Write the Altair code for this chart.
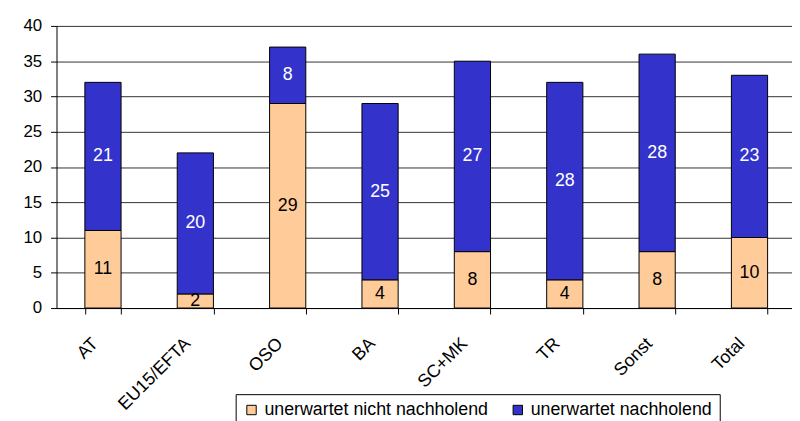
import altair as alt
import pandas as pd

categories = ["AT", "EU15/EFTA", "OSO", "BA", "SC+MK", "TR", "Sonst", "Total"]
nicht_nachholend = [11, 2, 29, 4, 8, 4, 8, 10]
nachholend = [21, 20, 8, 25, 27, 28, 28, 23]
series = ["unerwartet nicht nachholend", "unerwartet nachholend"]
colors = ["#FFCC99", "#3333CC"]
y_ticks = [0, 5, 10, 15, 20, 25, 30, 35, 40]

rows = []
for i, c in enumerate(categories):
    rows.append({"cat": c, "series": series[0], "order": 0, "value": nicht_nachholend[i]})
    rows.append({"cat": c, "series": series[1], "order": 1, "value": nachholend[i]})
df = pd.DataFrame(rows)

FONT = "Liberation Sans"

base = alt.Chart(df).transform_stack(
    stack="value", as_=["v0", "v1"], groupby=["cat"], sort=[alt.SortField("order")]
).transform_calculate(mid="(datum.v0 + datum.v1) / 2")

xscale = alt.Scale(paddingInner=0.608, paddingOuter=0.307, range=[0, 747])
yscale = alt.Scale(domain=[0, 40], nice=False)

xaxis = alt.Axis(
    title=None, labelAngle=-45, labelAlign="right", labelBaseline="middle",
    labelOffset=-8, labelPadding=27, tickSize=6, tickBand="extent",
    domainColor="black", tickColor="black", labelColor="black",
    labelFontSize=18, labelFont=FONT, grid=False,
)
yaxis = alt.Axis(
    title=None, values=y_ticks, tickSize=6, labelPadding=9,
    grid=True, gridColor="#333333", gridWidth=1,
    domainColor="black", tickColor="black", labelColor="black",
    labelFontSize=17, labelFont=FONT,
)

bars = base.mark_bar(stroke="black", strokeWidth=1).encode(
    x=alt.X("cat:N", sort=categories, scale=xscale, axis=xaxis),
    y=alt.Y("v0:Q", scale=yscale, axis=yaxis),
    y2="v1:Q",
    color=alt.Color(
        "series:N",
        scale=alt.Scale(domain=series, range=colors),
        legend=alt.Legend(
            title=None, orient="none", legendX=181, legendY=372,
            direction="horizontal", symbolType="square", symbolSize=90,
            symbolStrokeColor="black", symbolStrokeWidth=1,
            labelFontSize=18, labelFont=FONT, labelColor="black",
            labelOffset=4, columnPadding=20, labelLimit=0,
            strokeColor="black", fillColor="white", padding=7,
        ),
    ),
)

labels = base.mark_text(fontSize=18, font=FONT).encode(
    x=alt.X("cat:N", sort=categories, scale=xscale, axis=xaxis),
    y=alt.Y("mid:Q", scale=yscale, axis=yaxis),
    text=alt.Text("value:Q"),
    color=alt.condition("datum.order == 0", alt.value("black"), alt.value("white")),
)

chart = alt.layer(bars, labels).properties(
    width=743,
    height=285,
    autosize=alt.AutoSizeParams(type="none"),
    padding={"left": 49, "top": 16, "right": 0, "bottom": 112},
    background="white",
).configure_view(stroke=None)

chart.save("out.html", embed_options={"renderer": "svg", "actions": False})
